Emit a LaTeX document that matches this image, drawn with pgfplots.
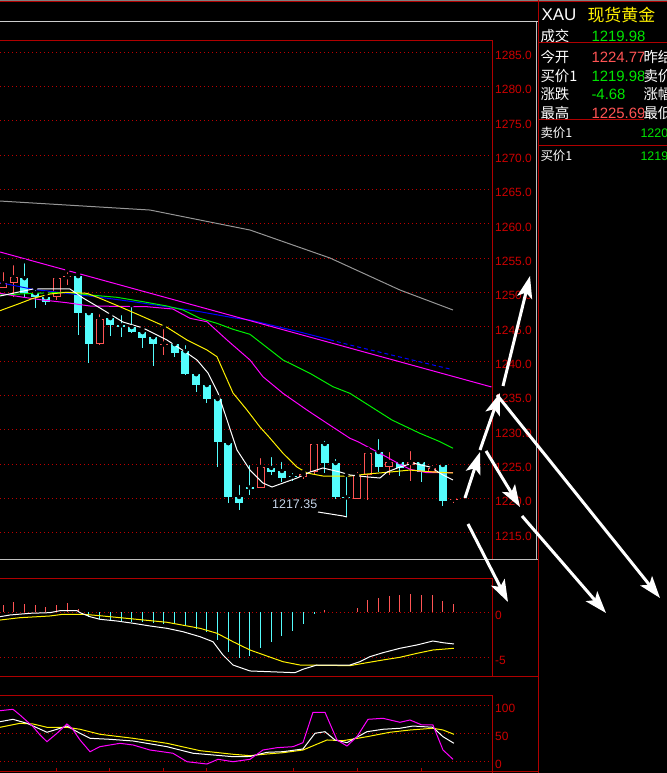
\documentclass[border=0pt]{standalone}
\usepackage{fontspec}
\setmainfont{Liberation Sans}
\newfontfamily\cjk{Noto Sans CJK SC}
\usepackage{pgfplots}
\pgfplotsset{compat=1.18}
\usepackage{pgfplotstable}
\usetikzlibrary{arrows.meta}

\definecolor{frame}{RGB}{176,0,0}
\definecolor{gridred}{RGB}{190,0,0}
\definecolor{lbl}{RGB}{204,0,0}
\definecolor{up}{RGB}{255,84,84}
\definecolor{down}{RGB}{84,252,252}
\definecolor{mam}{RGB}{255,0,255}
\definecolor{mag}{RGB}{0,240,0}
\definecolor{mab}{RGB}{0,0,255}
\definecolor{magrey}{RGB}{150,150,150}
\definecolor{qgreen}{RGB}{0,230,0}
\definecolor{qred}{RGB}{255,84,84}
\definecolor{annot}{RGB}{200,215,235}

% bar index, open, high, low, close
\pgfplotstableread{
x o h l c
0 1250.65 1253.27 1250.65 1251.38
1 1251.38 1254.29 1249.34 1252.25
5 1249.34 1252.40 1248.91 1252.11
6 1252.25 1253.27 1251.09 1252.40
9 1242.50 1247.16 1242.36 1246.14
15 1242.42 1244.98 1240.90 1242.58
24 1221.54 1226.20 1221.54 1224.60
28 1223.15 1223.87 1222.90 1223.58
29 1223.87 1228.24 1223.44 1227.95
33 1219.94 1224.17 1219.94 1223.44
34 1223.44 1227.22 1219.80 1226.64
36 1224.60 1227.08 1223.44 1225.33
38 1224.89 1227.22 1222.56 1225.33
40 1223.87 1225.18 1223.73 1224.46
42 1219.84 1220.00 1219.36 1219.98
}\upbars

\pgfplotstableread{
x o h l c
2 1252.11 1254.58 1249.34 1249.93
3 1249.93 1250.65 1247.74 1249.34
4 1249.34 1249.93 1248.18 1248.62
7 1252.40 1252.84 1243.81 1247.01
8 1247.01 1247.31 1239.74 1242.50
10 1246.29 1246.72 1243.67 1245.27
11 1245.22 1247.01 1243.52 1245.05
12 1244.98 1248.18 1244.10 1244.25
13 1244.25 1244.83 1241.92 1243.38
14 1243.52 1243.52 1239.30 1242.50
16 1242.50 1242.79 1240.61 1241.19
17 1241.48 1242.65 1237.99 1238.14
18 1238.14 1238.14 1235.52 1236.54
19 1236.54 1236.83 1233.92 1234.50
20 1234.50 1234.79 1224.60 1228.24
21 1228.09 1228.09 1219.36 1220.24
22 1220.24 1222.27 1218.34 1219.36
23 1221.62 1225.18 1220.53 1221.47
25 1224.46 1226.35 1223.44 1223.87
26 1224.02 1225.62 1222.42 1223.00
27 1223.23 1224.02 1222.56 1223.08
30 1227.95 1228.68 1223.73 1225.18
31 1225.18 1226.06 1219.94 1220.24
32 1220.17 1223.44 1217.35 1220.02
35 1226.79 1228.97 1223.87 1224.60
37 1225.33 1225.62 1223.29 1224.46
39 1225.33 1225.91 1222.42 1223.87
41 1224.89 1225.47 1218.93 1219.65
}\downbars

\pgfplotsset{
  panel/.style={
    anchor=south west, scale only axis, width=491.5bp,
    xmin=-0.28, xmax=45.53,
    axis line style={draw=none},
    xtick=\empty,
    yticklabel pos=right,
    ymajorgrids,
    grid style={gridred, line width=1bp, dash pattern=on 1bp off 3bp},
    ytick style={draw=none},
    yticklabel style={font=\fontsize{12}{14}\selectfont, text=lbl, anchor=west,
      inner sep=0pt, xshift=3.5bp, yshift=-3bp},
    /pgf/number format/assume math mode=true,
    /pgf/number format/1000 sep={},
  },
  wick/.style={only marks, mark=none, error bars/.cd, y dir=minus, y explicit,
    error mark=none, error bar style={draw=#1, line width=1bp}},
  body/.style 2 args={only marks, mark=none, error bars/.cd, y dir=minus, y explicit,
    error mark=none, error bar style={draw=#1, line width=#2}},
}

\begin{document}
\begin{tikzpicture}
\begin{scope}
\clip (0,0) rectangle (667bp,773bp);
\fill[black] (0,0) rectangle (667bp,773bp);

% ---------- price panel ----------
\begin{axis}[panel, at={(0bp,213bp)}, height=519bp,
  ymin=1211.06, ymax=1286.65,
  ytick={1215,1220,...,1285},
  /pgf/number format/fixed, /pgf/number format/fixed zerofill,
  /pgf/number format/precision=1]
  % wicks
  \addplot[wick=down] table[x=x, y=h, y error minus expr=\thisrow{h}-\thisrow{l}] {\downbars};
  \addplot[wick=up] table[x=x, y=h, y error minus expr=\thisrow{h}-\thisrow{l}] {\upbars};
  % bodies
  \addplot[body={down}{8bp}] table[x=x, y=o, y error minus expr=\thisrow{o}-\thisrow{c}] {\downbars};
  \addplot[body={up}{8bp}] table[x=x, y=c, y error minus expr=\thisrow{c}-\thisrow{o}] {\upbars};
  \addplot[body={black}{6bp}] table[x=x, y expr=\thisrow{c}-0.15,
    y error minus expr={max(\thisrow{c}-\thisrow{o}-0.3,0)}] {\upbars};
  % moving averages
  \addplot[magrey, line width=1bp] coordinates {(-0.28,1263.34)(13.7,1262.03)(23.02,1259.12)(30.48,1255.04)(37.0,1250.38)(41.94,1247.47)};
  \addplot[mab, line width=1bp] coordinates {(-0.28,1251.44)(2.80,1250.48)(5.96,1249.90)(9.04,1249.32)(12.12,1248.68)(15.28,1247.95)(18.36,1247.22)(21.44,1246.35)(23.02,1246.01)(27.68,1244.26)(30.48,1243.13)};
  \addplot[mab, line width=1bp, dash pattern=on 4bp off 3bp] coordinates {(30.48,1243.13)(32.34,1242.37)(37.0,1240.62)(41.66,1238.87)};
  \addplot[mag, line width=1bp] coordinates {(-0.28,1249.65)(2.80,1249.90)(5.96,1250.05)(8.11,1249.65)(10.62,1249.32)(13.05,1248.68)(15.28,1248.05)(16.78,1247.47)(18.36,1246.26)(19.94,1245.53)(21.44,1244.66)(23.02,1243.93)(26.1,1240.19)(28.61,1238.25)(30.75,1236.30)(32.34,1235.33)(36.25,1231.45)(38.86,1229.51)(40.73,1228.29)(41.94,1227.33)};
  \addplot[mam, line width=1bp] coordinates {(-0.28,1249.90)(1.58,1249.40)(3.73,1248.92)(5.96,1248.53)(8.11,1248.05)(13.42,1247.95)(15.84,1247.61)(17.43,1246.26)(19.01,1245.76)(20.88,1243.10)(23.02,1240.19)(24.23,1237.75)(26.1,1235.33)(28.33,1232.90)(30.2,1230.97)(32.34,1228.78)(33.08,1228.29)(35.13,1226.60)(36.72,1225.23)(37.93,1224.27)(39.52,1223.77)(41.94,1223.77)};
  \addplot[mam, line width=1bp] coordinates {(-0.28,1255.92)(45.53,1236.26)};
  \addplot[yellow, line width=1bp] coordinates {(-0.28,1247.37)(1.58,1248.44)(2.80,1249.17)(4.38,1249.80)(5.96,1250.05)(7.83,1249.90)(9.04,1249.17)(10.90,1247.95)(13.05,1246.49)(15.28,1244.95)(17.15,1243.10)(19.01,1241.64)(19.94,1240.67)(21.44,1235.38)(22.74,1232.90)(23.95,1230.43)(24.88,1228.82)(26.1,1226.60)(27.4,1224.60)(28.33,1223.73)(29.82,1223.29)(32.34,1223.29)(33.92,1223.58)(36.07,1223.87)(37.93,1224.16)(40.07,1223.87)(41.94,1223.73)};
  \addplot[white, line width=1bp] coordinates {(-0.28,1249.51)(2.80,1250.53)(6.24,1250.53)(7.46,1249.22)(9.04,1247.76)(11.18,1245.72)(13.05,1244.85)(15.28,1243.10)(17.15,1241.20)(18.08,1240.19)(19.11,1238.29)(20.04,1235.38)(20.88,1231.45)(21.81,1227.08)(23.02,1224.16)(24.23,1222.27)(25.07,1221.69)(26.10,1222.27)(27.40,1223.00)(28.61,1223.87)(29.82,1224.46)(31.41,1223.87)(32.34,1223.44)(34.02,1223.15)(35.13,1223.00)(35.79,1223.87)(37.0,1224.60)(38.21,1225.18)(39.80,1224.60)(41.01,1223.44)(41.94,1222.71)};
  % low marker
  \addplot[white, line width=1bp] coordinates {(29.36,1218.05)(31.69,1217.47)(32.06,1217.32)};
  \node[anchor=west, inner sep=0pt, text=annot, font=\fontsize{12.5}{14}\selectfont] at (25.07,1219.21) {1217.35};
\end{axis}

% ---------- MACD panel ----------
\begin{axis}[panel, at={(0bp,96bp)}, height=98bp,
  ymin=-7.19, ymax=3.70, ytick={-5,0}]
  \addplot[ycomb, up, line width=1bp] coordinates {(0,0.8)(1,1.14)(2,0.92)(3,0.8)(4,0.55)(5,0.8)(6,1.03)(7,0.33)(30,0.26)(33,0.52)(34,1.37)(35,1.59)(36,1.81)(37,1.93)(38,2.04)(39,1.93)(40,1.93)(41,1.26)(42,0.93)};
  \addplot[ycomb, down, line width=1bp] coordinates {(8,-0.48)(9,-0.78)(10,-0.85)(11,-0.93)(12,-1.04)(13,-1.04)(14,-1.22)(15,-1.3)(16,-1.22)(17,-1.52)(18,-1.89)(19,-2.15)(20,-3.07)(21,-4.37)(22,-5.04)(23,-4.81)(24,-3.93)(25,-3.26)(26,-2.6)(27,-2.08)(28,-1.3)(29,-0.15)};
  \addplot[yellow, line width=1bp] coordinates {(-0.28,-0.86)(1.58,-0.6)(4.38,-0.41)(5.59,-0.22)(7.46,-0.22)(9.04,-0.38)(12.12,-0.74)(15.28,-1.11)(18.36,-1.78)(19.94,-2.33)(21.44,-3.27)(23.02,-4.19)(24.6,-4.86)(26.1,-5.49)(27.68,-5.86)(32.34,-5.93)(33.92,-5.6)(35.41,-5.3)(37.0,-5.0)(38.58,-4.56)(40.07,-4.19)(42.03,-4.0)};
  \addplot[white, line width=1bp] coordinates {(-0.28,-0.49)(0.65,-0.3)(2.52,-0.11)(4.38,-0.04)(5.31,0.18)(6.9,0.18)(7.18,-0.04)(8.11,-0.49)(9.04,-0.78)(10.62,-0.97)(12.12,-1.22)(13.7,-1.52)(15.28,-1.78)(16.78,-2.16)(18.36,-2.71)(19.57,-3.27)(20.5,-4.74)(21.44,-5.86)(23.02,-6.52)(27.21,-6.71)(27.96,-6.33)(29.26,-5.86)(32.34,-5.86)(33.27,-5.49)(34.2,-4.93)(35.41,-4.49)(37.0,-4.0)(38.58,-3.63)(40.07,-3.19)(41.01,-3.38)(42.03,-3.52)};
\end{axis}

% ---------- KDJ panel ----------
\begin{axis}[panel, at={(0bp,2bp)}, height=75bp,
  ymin=-16.0, ymax=117.2, ytick={0,50,100}, yticklabel style={yshift=0.5bp},
  xtick={5.03,9.97,15,19.01,27.03,33,39.05}, xticklabels={},
  xtick pos=bottom, xtick align=inside, major tick length=3bp,
  xtick style={frame, line width=1bp}]
  \addplot[yellow, line width=1bp] coordinates {(-0.28,61.6)(1.58,68.7)(2.80,67.5)(4.10,61.6)(5.96,61.6)(7.18,58.1)(9.04,49.2)(12.12,42.1)(15.28,33.2)(18.36,20.1)(21.44,13.7)(23.02,11.2)(24.60,14.2)(26.10,16.5)(27.96,21.3)(30.20,39.1)(31.69,37.8)(33.92,44.9)(36.07,52.8)(37.93,56.8)(40.07,59.9)(41.01,56.8)(42.03,49.2)};
  \addplot[white, line width=1bp] coordinates {(-0.28,71.6)(0.93,75.8)(2.24,68.7)(4.10,52.8)(5.03,58.1)(5.96,63.9)(6.90,53.8)(8.11,42.1)(9.97,40.3)(12.12,37.3)(15.28,27.2)(17.71,15.5)(19.94,11.9)(21.44,9.4)(23.02,9.8)(24.60,17.2)(26.10,18.3)(27.96,23.1)(29.08,51.0)(30.01,53.8)(30.94,39.1)(32.06,34.3)(33.92,53.8)(35.41,58.1)(37.0,59.9)(38.21,63.9)(40.07,61.6)(41.01,44.9)(42.03,33.2)};
  \addplot[mam, line width=1bp] coordinates {(-0.28,91.1)(0.93,93.6)(1.58,83.5)(2.80,62.7)(3.45,48.0)(4.10,36.1)(5.03,51.0)(5.96,67.5)(6.43,59.9)(7.18,39.1)(8.11,18.3)(9.04,27.2)(10.90,33.2)(12.12,30.2)(13.70,21.3)(15.84,15.5)(17.15,0.5)(19.01,-3.6)(20.04,4.8)(21.44,0.5)(23.02,4.8)(24.23,21.3)(25.54,25.4)(27.03,27.2)(27.96,34.3)(28.89,88.3)(30.01,88.3)(31.13,39.1)(32.06,28.4)(32.99,44.9)(34.02,75.8)(35.41,77.6)(37.0,70.5)(37.93,74.6)(39.05,65.7)(40.07,65.7)(41.01,21.3)(41.94,4.8)};
\end{axis}

% ---------- frames ----------
\begin{scope}[x=1bp, y=1bp, line width=1bp]
  \draw[gray] (0,772.5) -- (667,772.5);
  \draw[frame] (0,771) -- (667,771);
  \draw[black!20!white] (0,751) -- (538,751);
  \draw[frame] (0,732) -- (492,732) -- (492,213);
  \draw[black!25!white] (0,213) -- (538,213);
  \draw[black!25!white] (536.5,751) -- (536.5,213);
  \draw[frame] (0,194) -- (492,194) -- (492,96);
  \draw[frame] (0,96) -- (538,96);
  \draw[frame] (0,77) -- (492,77) -- (492,0);
  \draw[frame] (0,2) -- (538,2);
  \draw[frame] (538.5,0) -- (538.5,773);
  \draw[frame] (538,730) -- (667,730);
  \draw[frame] (538,653) -- (667,653);
  \draw[frame] (538,627) -- (667,627);

  % quote panel
  \begin{scope}[every node/.style={anchor=west, inner sep=0pt}]
    \node[text=white, font=\fontsize{17}{19}\selectfont] at (541,758) {XAU};
    \node[text=yellow, font=\cjk\fontsize{17}{19}\selectfont] at (587,758) {现货黄金};
    \node[text=white, font=\cjk\fontsize{14.5}{16}\selectfont] at (540,737) {成交};
    \node[text=qgreen, font=\fontsize{15}{17}\selectfont] at (591,737) {1219.98};
    \node[text=white, font=\cjk\fontsize{14.5}{16}\selectfont] at (540,716) {今开};
    \node[text=qred, font=\fontsize{15}{17}\selectfont] at (591,716) {1224.77};
    \node[text=white, fill=black, font=\cjk\fontsize{14.5}{16}\selectfont] at (643,716) {昨结};
    \node[text=white, font=\cjk\fontsize{14.5}{16}\selectfont] at (540,697) {买价1};
    \node[text=qgreen, font=\fontsize{15}{17}\selectfont] at (591,697) {1219.98};
    \node[text=white, fill=black, font=\cjk\fontsize{14.5}{16}\selectfont] at (643,697) {卖价};
    \node[text=white, font=\cjk\fontsize{14.5}{16}\selectfont] at (540,679) {涨跌};
    \node[text=qgreen, font=\fontsize{15}{17}\selectfont] at (591,679) {-4.68};
    \node[text=white, fill=black, font=\cjk\fontsize{14.5}{16}\selectfont] at (643,679) {涨幅};
    \node[text=white, font=\cjk\fontsize{14.5}{16}\selectfont] at (540,660) {最高};
    \node[text=qred, font=\fontsize{15}{17}\selectfont] at (591,660) {1225.69};
    \node[text=white, fill=black, font=\cjk\fontsize{14.5}{16}\selectfont] at (643,660) {最低};
    \node[text=white, font=\cjk\fontsize{12.5}{14}\selectfont] at (540,640) {卖价1};
    \node[text=qgreen, font=\fontsize{12.5}{14}\selectfont] at (640,640) {1220};
    \node[text=white, font=\cjk\fontsize{12.5}{14}\selectfont] at (540,617) {买价1};
    \node[text=qgreen, font=\fontsize{12.5}{14}\selectfont] at (640,617) {1219};
  \end{scope}

  % hand-drawn arrows
  \begin{scope}[white, line width=3bp, -{Stealth[length=22bp, width=15bp, inset=5bp]}]
    \draw (468,249) -- (508,171);
    \draw (465,275) -- (480,321);
    \draw (480,323) -- (500,380);
    \draw (503,387) -- (530,497);
    \draw (486,322) -- (520,266);
    \draw (522,257) -- (606,160);
    \draw (497,378) -- (660,175);
  \end{scope}
\end{scope}
\end{scope}
\pgfresetboundingbox
\useasboundingbox (0,0) rectangle (667bp,773bp);
\end{tikzpicture}
\end{document}
